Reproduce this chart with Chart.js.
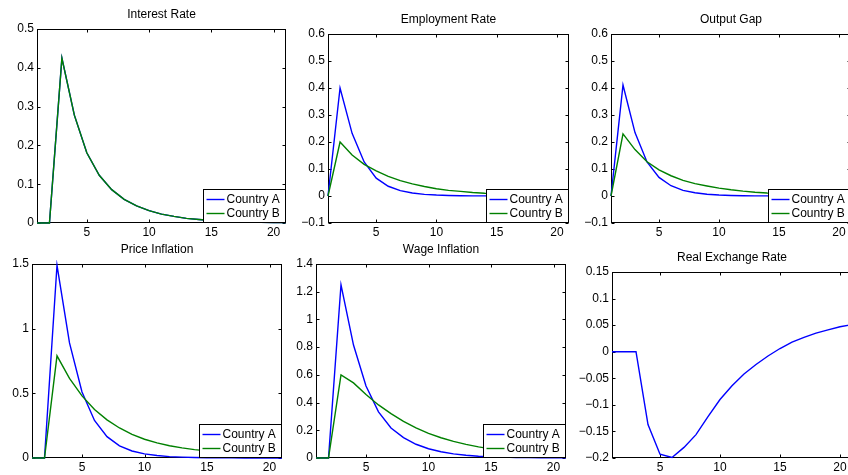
<!DOCTYPE html>
<html>
<head>
<meta charset="utf-8">
<script src="https://cdn.jsdelivr.net/npm/chart.js@4.4.1/dist/chart.umd.min.js"></script>
<style>
  html, body { margin: 0; padding: 0; background: #fff; }
  #fig { position: relative; width: 848px; height: 475px; overflow: hidden; background: #fff; }
  #fig canvas { position: absolute; }
</style>
</head>
<body>
<div id="fig"></div>
<script>
// Impulse responses over a 21-period horizon
const horizon = [1, 2, 3, 4, 5, 6, 7, 8, 9, 10, 11, 12, 13, 14, 15, 16, 17, 18, 19, 20, 21];

const interestA = [0, 0, 0.425, 0.278, 0.181, 0.123, 0.086, 0.061, 0.044, 0.032, 0.023, 0.017, 0.012, 0.009, 0.0065, 0.0047, 0.0034, 0.0025, 0.0018, 0.0013, 0.0009];
const interestB = [0, 0, 0.425, 0.278, 0.181, 0.123, 0.086, 0.061, 0.044, 0.032, 0.023, 0.017, 0.012, 0.009, 0.0065, 0.0047, 0.0034, 0.0025, 0.0018, 0.0013, 0.0009];

const employmentA = [0, 0.40, 0.232, 0.126, 0.066, 0.036, 0.020, 0.011, 0.006, 0.0035, 0.002, 0.0011, 0.0006, 0.0003, 0.0002, 0.0001, 0, 0, 0, 0, 0];
const employmentB = [0, 0.20, 0.152, 0.117, 0.093, 0.073, 0.057, 0.045, 0.035, 0.027, 0.021, 0.017, 0.013, 0.010, 0.008, 0.006, 0.0047, 0.0037, 0.0029, 0.0023, 0.0018];

const outputGapA = [0, 0.411, 0.235, 0.126, 0.069, 0.038, 0.021, 0.012, 0.0066, 0.0036, 0.002, 0.0011, 0.0006, 0.0003, 0.0002, 0.0001, 0, 0, 0, 0, 0];
const outputGapB = [0, 0.23, 0.172, 0.127, 0.097, 0.075, 0.058, 0.046, 0.037, 0.029, 0.023, 0.018, 0.014, 0.011, 0.009, 0.007, 0.0055, 0.0043, 0.0034, 0.0027, 0.0021];

const priceInflA = [0, 0, 1.49, 0.89, 0.51, 0.29, 0.165, 0.094, 0.054, 0.032, 0.019, 0.011, 0.0065, 0.0038, 0.0022, 0.0013, 0.0008, 0.0005, 0.0003, 0.0002, 0.0001];
const priceInflB = [0, 0, 0.79, 0.615, 0.48, 0.375, 0.295, 0.232, 0.183, 0.145, 0.117, 0.095, 0.078, 0.065, 0.055, 0.046, 0.039, 0.033, 0.028, 0.023, 0.019];

const wageInflA = [0, 0, 1.25, 0.815, 0.52, 0.333, 0.217, 0.147, 0.099, 0.067, 0.045, 0.03, 0.02, 0.013, 0.009, 0.006, 0.004, 0.0027, 0.0018, 0.0012, 0.0008];
const wageInflB = [0, 0, 0.60, 0.542, 0.458, 0.383, 0.32, 0.265, 0.218, 0.178, 0.146, 0.12, 0.098, 0.08, 0.066, 0.054, 0.044, 0.036, 0.03, 0.024, 0.02];

const realExchange = [0, 0, 0, -0.137, -0.193, -0.199, -0.18, -0.156, -0.122, -0.09, -0.064, -0.042, -0.024, -0.008, 0.006, 0.018, 0.027, 0.035, 0.041, 0.047, 0.051];

// Tick values and their labels
const xTicks = [5, 10, 15, 20];
const xTickLabels = ['5', '10', '15', '20'];

const interestTicks = [0, 0.1, 0.2, 0.3, 0.4, 0.5];
const interestTickLabels = ['0', '0.1', '0.2', '0.3', '0.4', '0.5'];
const gapTicks = [-0.1, 0, 0.1, 0.2, 0.3, 0.4, 0.5, 0.6];
const gapTickLabels = ['\u22120.1', '0', '0.1', '0.2', '0.3', '0.4', '0.5', '0.6'];
const priceTicks = [0, 0.5, 1, 1.5];
const priceTickLabels = ['0', '0.5', '1', '1.5'];
const wageTicks = [0, 0.2, 0.4, 0.6, 0.8, 1, 1.2, 1.4];
const wageTickLabels = ['0', '0.2', '0.4', '0.6', '0.8', '1', '1.2', '1.4'];
const rerTicks = [-0.2, -0.15, -0.1, -0.05, 0, 0.05, 0.1, 0.15];
const rerTickLabels = ['\u22120.2', '\u22120.15', '\u22120.1', '\u22120.05', '0', '0.05', '0.1', '0.15'];

const seriesNames = ['Country A', 'Country B'];

// Styling
const FONT = '"Liberation Sans", Arial, Helvetica, sans-serif';
const BLUE = '#0000ff';
const GREEN = '#008000';
const LINE_W = 1.4;

// Subplot layout: plot-area box [left, top, right, bottom] in page pixels
const panels = [
  { title: 'Interest Rate', box: [37, 29, 286, 223], y: [0, 0.5], ticks: interestTicks, labels: interestTickLabels,
    series: [interestA, interestB], legend: true },
  { title: 'Employment Rate', box: [328, 34, 569, 223], y: [-0.1, 0.6], ticks: gapTicks, labels: gapTickLabels,
    series: [employmentA, employmentB], legend: true },
  { title: 'Output Gap', box: [611, 34, 851, 223], y: [-0.1, 0.6], ticks: gapTicks, labels: gapTickLabels,
    series: [outputGapA, outputGapB], legend: true },
  { title: 'Price Inflation', box: [32, 264, 282, 458], y: [0, 1.5], ticks: priceTicks, labels: priceTickLabels,
    series: [priceInflA, priceInflB], legend: true },
  { title: 'Wage Inflation', box: [316, 264, 566, 458], y: [0, 1.4], ticks: wageTicks, labels: wageTickLabels,
    series: [wageInflA, wageInflB], legend: true },
  { title: 'Real Exchange Rate', box: [612, 272, 852, 458], y: [-0.2, 0.15], ticks: rerTicks, labels: rerTickLabels,
    series: [realExchange], legend: false }
];

// Axes box with inward tick marks on all four sides, plus a boxed legend
const matlabAxes = {
  id: 'matlabAxes',
  beforeDatasetsDraw(chart) {
    const { ctx, chartArea: a, scales } = chart;
    const L = Math.round(a.left) + 0.5, R = Math.round(a.right) - 0.5;
    const T = Math.round(a.top) + 0.5, B = Math.round(a.bottom) - 0.5;
    const len = 3;
    ctx.save();
    ctx.strokeStyle = '#000';
    ctx.lineWidth = 1;
    ctx.beginPath();
    scales.x.ticks.forEach(t => {
      const px = Math.round(scales.x.getPixelForValue(t.value)) + 0.5;
      ctx.moveTo(px, B); ctx.lineTo(px, B - len);
      ctx.moveTo(px, T); ctx.lineTo(px, T + len);
    });
    scales.y.ticks.forEach(t => {
      const py = Math.round(scales.y.getPixelForValue(t.value)) + 0.5;
      ctx.moveTo(L, py); ctx.lineTo(L + len, py);
      ctx.moveTo(R, py); ctx.lineTo(R - len, py);
    });
    ctx.stroke();
    ctx.strokeRect(L, T, R - L, B - T);
    ctx.restore();
  },
  afterDatasetsDraw(chart, args, opts) {
    if (!opts.show) return;
    const { ctx, chartArea: a } = chart;
    const ds = chart.data.datasets;
    ctx.save();
    ctx.font = '12px ' + FONT;
    const tw = Math.max(...ds.map(d => ctx.measureText(d.label).width));
    const rowH = 14.5, lineLen = 18;
    const bw = Math.round(3 + lineLen + 2 + tw + 6);
    const bh = Math.round(rowH * ds.length + 4);
    const bx = Math.round(a.right) - 1 - bw + 0.5;
    const by = Math.round(a.bottom) - 1 - bh + 0.5;
    ctx.fillStyle = '#fff';
    ctx.fillRect(bx, by, bw, bh);
    ctx.strokeStyle = '#000';
    ctx.lineWidth = 1;
    ctx.strokeRect(bx, by, bw, bh);
    ds.forEach((d, i) => {
      const cy = by + 2 + rowH * (i + 0.5);
      ctx.strokeStyle = d.borderColor;
      ctx.lineWidth = LINE_W;
      ctx.beginPath();
      ctx.moveTo(bx + 3, Math.round(cy) + 0.5);
      ctx.lineTo(bx + 3 + lineLen, Math.round(cy) + 0.5);
      ctx.stroke();
      ctx.fillStyle = '#000';
      ctx.textBaseline = 'middle';
      ctx.textAlign = 'left';
      ctx.fillText(d.label, bx + 3 + lineLen + 2, cy + 0.5);
    });
    ctx.restore();
  }
};

const fig = document.getElementById('fig');
const PAD_L = 48, PAD_T = 25, PAD_B = 20, PAD_R = 6;

panels.forEach(p => {
  const [l, t, r, b] = p.box;
  const w = (r - l) + PAD_L + PAD_R;
  const h = (b - t) + PAD_T + PAD_B;
  const canvas = document.createElement('canvas');
  canvas.width = w; canvas.height = h;
  canvas.style.width = w + 'px'; canvas.style.height = h + 'px';
  canvas.style.left = (l - PAD_L) + 'px';
  canvas.style.top = (t - PAD_T) + 'px';
  fig.appendChild(canvas);

  const colors = [BLUE, GREEN];
  const datasets = p.series.map((vals, i) => ({
    label: seriesNames[i],
    data: horizon.map((x, k) => ({ x: x, y: vals[k] })),
    borderColor: colors[i],
    backgroundColor: colors[i],
    borderWidth: LINE_W,
    pointRadius: 0,
    tension: 0,
    fill: false,
    clip: 4,
    order: p.series.length - 1 - i
  }));

  new Chart(canvas, {
    type: 'line',
    data: { datasets },
    options: {
      responsive: false,
      animation: false,
      devicePixelRatio: 1,
      layout: { padding: { left: 0, top: 0, right: PAD_R, bottom: 0 } },
      plugins: {
        legend: { display: false },
        tooltip: { enabled: false },
        title: {
          display: true, text: p.title, fullSize: false, color: '#000',
          font: { family: FONT, size: 12, weight: 'normal', lineHeight: 1 },
          padding: { top: 5, bottom: 8 }
        },
        matlabAxes: { show: p.legend }
      },
      scales: {
        x: {
          type: 'linear', min: 1, max: 21,
          afterBuildTicks(s) { s.ticks = xTicks.map(v => ({ value: v })); },
          afterFit(s) { s.height = PAD_B; },
          grid: { display: false, drawTicks: false },
          border: { display: false },
          ticks: {
            autoSkip: false, maxRotation: 0, padding: 2, color: '#000',
            font: { family: FONT, size: 12 },
            callback: (v, i) => xTickLabels[i]
          }
        },
        y: {
          type: 'linear', min: p.y[0], max: p.y[1],
          afterBuildTicks(s) { s.ticks = p.ticks.map(v => ({ value: v })); },
          afterFit(s) { s.width = PAD_L; },
          grid: { display: false, drawTicks: false },
          border: { display: false },
          ticks: {
            autoSkip: false, padding: 3, color: '#000',
            font: { family: FONT, size: 12 },
            callback: (v, i) => p.labels[i]
          }
        }
      }
    },
    plugins: [matlabAxes]
  });
});
</script>
</body>
</html>
